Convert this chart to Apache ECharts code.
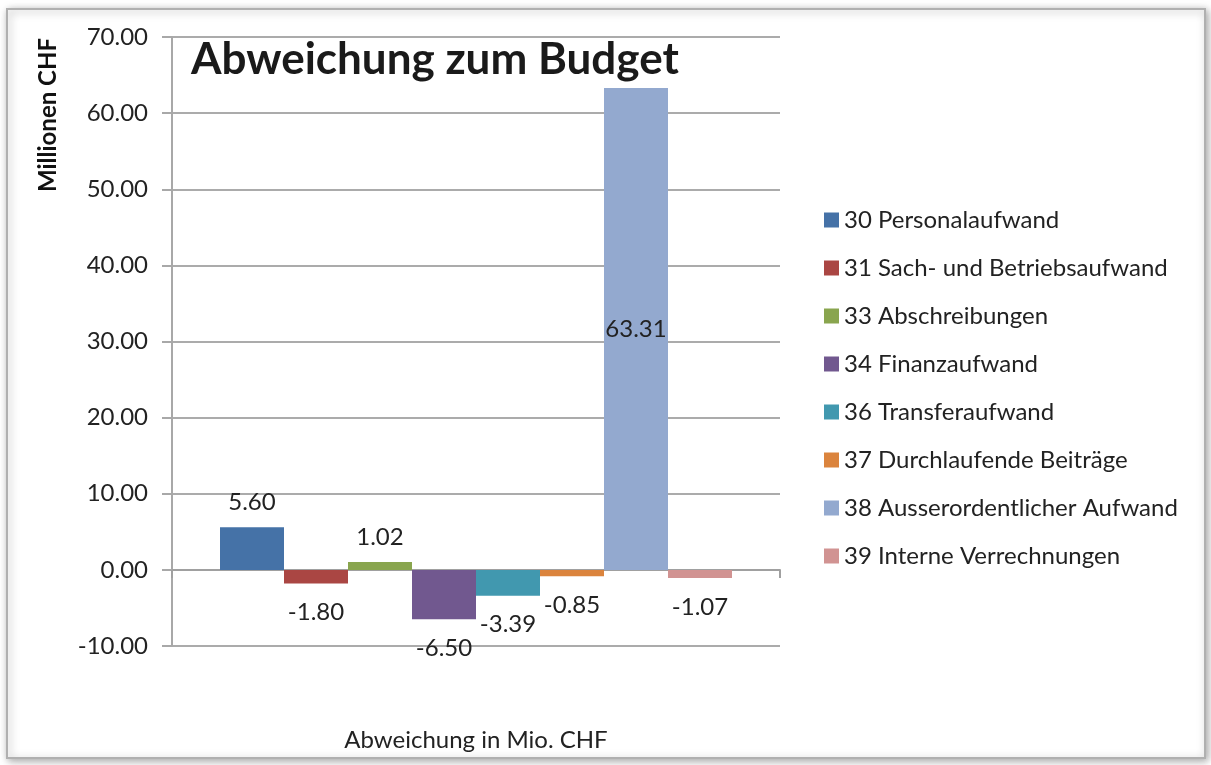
<!DOCTYPE html>
<html>
<head>
<meta charset="utf-8">
<script src="https://cdn.jsdelivr.net/npm/echarts@6/dist/echarts.min.js"></script>
<style>
  html, body { margin: 0; padding: 0; background: #fff; }
  #chart { width: 1211px; height: 765px; }
</style>
</head>
<body>
<div id="chart"></div>
<script>
// Abweichung zum Budget, Mio. CHF
const category = ["Abweichung in Mio. CHF"];
const seriesNames = [
  "30 Personalaufwand",
  "31 Sach- und Betriebsaufwand",
  "33 Abschreibungen",
  "34 Finanzaufwand",
  "36 Transferaufwand",
  "37 Durchlaufende Beiträge",
  "38 Ausserordentlicher Aufwand",
  "39 Interne Verrechnungen",
];
const values = [5.6, -1.8, 1.02, -6.5, -3.39, -0.85, 63.31, -1.07];
const colors = ["#4572A7", "#AA4643", "#89A54E", "#71588F", "#4198AF", "#DB843D", "#93A9CF", "#D19392"];
const yTicks = { min: -10, max: 70, interval: 10 };

const font = "Lato, 'Open Sans', sans-serif";

const chart = echarts.init(document.getElementById("chart"));

const series = seriesNames.map((name, i) => {
  const v = values[i];
  let pos = v < 0 ? "bottom" : "top";
  if (v > 30) pos = "inside"; // grosser Balken: Label in der Mitte
  return {
    name,
    type: "bar",
    barWidth: 64,
    barGap: "0%",
    itemStyle: { color: colors[i] },
    label: {
      show: true,
      position: pos,
      distance: v < 0 ? 17 : 13,
      fontFamily: font,
      fontSize: 24,
      color: "#222",
      formatter: (p) => p.value.toFixed(2),
    },
    data: [v],
  };
});

chart.setOption({
  animation: false,
  textStyle: { fontFamily: font },
  title: {
    text: "Abweichung zum Budget",
    left: 186,
    top: 33,
    textStyle: { fontFamily: font, fontSize: 44, fontWeight: "bold", color: "#1a1a1a" },
  },
  legend: {
    orient: "vertical",
    left: 819,
    top: 203,
    itemWidth: 15,
    itemHeight: 15,
    itemGap: 24,
    icon: "rect",
    textStyle: { fontFamily: font, fontSize: 24, color: "#222" },
    data: seriesNames,
  },
  grid: { left: 172, right: 431, top: 37, bottom: 119, outerBoundsMode: "none" },
  xAxis: {
    type: "category",
    data: category,
    name: category[0],
    nameLocation: "middle",
    nameGap: 82,
    nameTextStyle: { fontFamily: font, fontSize: 24, color: "#222" },
    axisLine: { lineStyle: { color: "#a0a0a0", width: 2 } },
    axisTick: { show: true, length: 8, lineStyle: { color: "#a0a0a0", width: 2 } },
    axisLabel: { show: false },
  },
  yAxis: {
    type: "value",
    min: yTicks.min,
    max: yTicks.max,
    interval: yTicks.interval,
    axisLine: { show: true, lineStyle: { color: "#a8a8a8", width: 2 } },
    axisTick: { show: true, length: 10, lineStyle: { color: "#a8a8a8", width: 2 } },
    axisLabel: {
      margin: 24,
      fontFamily: font,
      fontSize: 24,
      color: "#222",
      formatter: (v) => v.toFixed(2),
    },
    splitLine: { lineStyle: { color: "#ababab", width: 2 } },
  },
  graphic: [
    {
      type: "rect",
      z: -10,
      shape: { x: 7, y: 9, width: 1198, height: 749 },
      style: { fill: "#fff", stroke: "#b0b0b0", lineWidth: 2, shadowBlur: 8, shadowColor: "rgba(0,0,0,0.35)", shadowOffsetX: 2, shadowOffsetY: 2 },
    },
    {
      // Achsentitel der y-Achse
      type: "text",
      x: 48,
      y: 115,
      rotation: Math.PI / 2,
      style: {
        text: "Millionen CHF",
        fontFamily: font,
        fontSize: 24,
        fontWeight: "bold",
        fill: "#111",
        align: "center",
        verticalAlign: "middle",
      },
    },
  ],
  series,
});
</script>
</body>
</html>
